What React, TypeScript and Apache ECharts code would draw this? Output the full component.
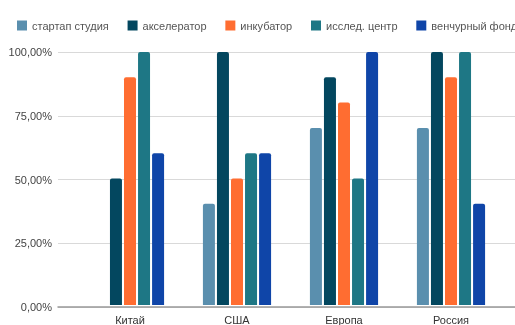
import React, { useEffect, useRef } from "react";
import * as echarts from "echarts";

const categories = ["Китай", "США", "Европа", "Россия"];
const seriesNames = ["стартап студия", "акселератор", "инкубатор", "исслед. центр", "венчурный фонд"];
const startupStudio = [null, 40, 70, 70];
const accelerator = [50, 100, 90, 100];
const incubator = [90, 50, 80, 90];
const researchCenter = [100, 60, 50, 100];
const ventureFund = [60, 60, 100, 40];
const yTicks = [0, 25, 50, 75, 100];
const colors = ["#5a8fae", "#03475f", "#ff6d31", "#1e7785", "#0f45a8"];

const allValues = [startupStudio, accelerator, incubator, researchCenter, ventureFund];

export default function App() {
  const ref = useRef<HTMLDivElement>(null);
  useEffect(() => {
    if (!ref.current) return;
    const chart = echarts.init(ref.current, undefined, { renderer: "svg" });
    const font = "Arial, 'Liberation Sans', sans-serif";
    const fmt = (v: number) => v.toFixed(2).replace(".", ",") + "%";
    chart.setOption({
      animation: false,
      color: colors,
      legend: {
        left: 12,
        top: 15,
        width: 800,
        itemWidth: 10,
        itemHeight: 10,
        itemGap: 18.8,
        icon: "rect",
        textStyle: { fontFamily: font, fontSize: 11, color: "#555" },
        data: seriesNames,
      },
      grid: [
        { left: 58, right: -5, top: 52, bottom: 18 },
        { left: 76.5, width: 428, top: 52, bottom: 18 },
      ],
      xAxis: [
        {
          gridIndex: 0,
          type: "category",
          data: [""],
          axisLine: { show: true, lineStyle: { color: "#999", width: 1.5 } },
          axisTick: { show: false },
          axisLabel: { show: false },
        },
        {
          gridIndex: 1,
          type: "category",
          data: categories,
          axisLine: { show: false },
          axisTick: { show: false },
          axisLabel: { fontFamily: font, fontSize: 11, color: "#333", margin: 9 },
        },
      ],
      yAxis: [
        {
          gridIndex: 0,
          type: "value",
          min: 0,
          max: 100,
          interval: 25,
          axisLine: { show: false },
          axisTick: { show: false },
          splitLine: { lineStyle: { color: "#d9d9d9", width: 1 } },
          axisLabel: {
            fontFamily: font,
            fontSize: 11,
            color: "#444",
            margin: 6,
            formatter: (v: number) => (yTicks.includes(v) ? fmt(v) : ""),
          },
        },
        {
          gridIndex: 1,
          type: "value",
          min: 0,
          max: 100,
          interval: 25,
          show: false,
          splitLine: { show: false },
        },
      ],
      series: seriesNames.map((name, i) => ({
        name,
        type: "bar",
        xAxisIndex: 1,
        yAxisIndex: 1,
        data: allValues[i],
        barWidth: 12,
        barGap: "17%",
        itemStyle: { color: colors[i], borderRadius: [2, 2, 0, 0] },
      })),
    });
    return () => chart.dispose();
  }, []);
  return (
    <div
      ref={ref}
      style={{ position: "fixed", left: 0, top: 0, width: 515, height: 325 }}
    />
  );
}
